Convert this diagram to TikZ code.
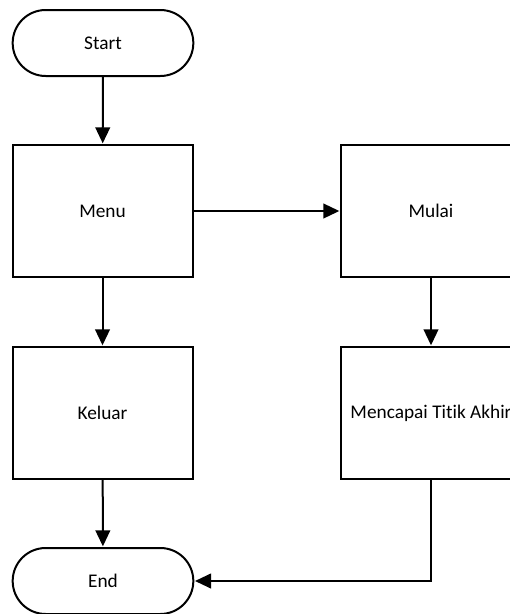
\documentclass[tikz,border=0pt]{standalone}
\usepackage{fontspec}
\setmainfont{Carlito}[Ligatures={NoCommon}]
\usetikzlibrary{arrows.meta,positioning}

\begin{document}
\begin{tikzpicture}[
    x=0.75pt, y=-0.75pt,
    box/.style={draw, line width=1.5pt, minimum width=135pt, minimum height=99pt, align=center, font=\fontsize{14.5}{17}\selectfont},
    terminal/.style={draw, line width=1.5pt, rounded corners=24.75pt, minimum width=135.5pt, minimum height=49.5pt, align=center, font=\fontsize{14.5}{17}\selectfont},
    arrow/.style={-{Triangle[length=12pt, width=11pt]}, line width=1.5pt, shorten >=0.5pt}
]
\clip (0,0) rectangle (510,614);
\node[terminal] (start) at (103,43) {Start};
\node[box] (menu) at (102.5,211) {Menu};
\node[box] (mulai) at (431,211) {Mulai};
\node[box] (keluar) at (102.5,413) {Keluar};
\node[box] (titik) at (431,413) {Mencapai Titik Akhir};
\node[terminal] (end) at (103,581) {End};
\draw[arrow] (start) -- (menu);
\draw[arrow] (menu) -- (mulai);
\draw[arrow] (menu) -- (keluar);
\draw[arrow] (mulai) -- (titik);
\draw[arrow] (keluar) -- (end);
\draw[arrow] (titik) |- (end);
\end{tikzpicture}
\end{document}
